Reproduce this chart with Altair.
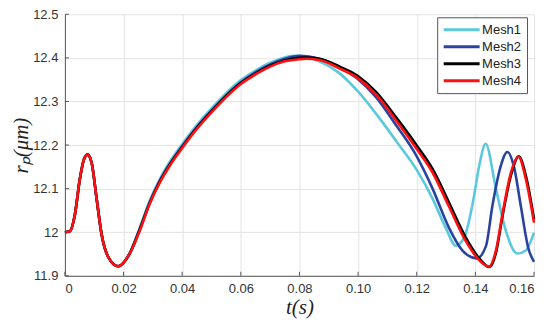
import altair as alt
import pandas as pd

# ---- data ----
series = ["Mesh1", "Mesh2", "Mesh3", "Mesh4"]
colors = ["#5cc8de", "#2b43a0", "#000000", "#ff1010"]

t1 = [0, 0.0017, 0.0034, 0.0051, 0.0065, 0.0077, 0.0091, 0.0108, 0.0125, 0.0148, 0.0182, 0.0221, 0.0255,
      0.0289, 0.0323, 0.0357, 0.040, 0.045, 0.050, 0.055, 0.060, 0.065, 0.070, 0.075, 0.078, 0.0868, 0.0936,
      0.0998, 0.1061, 0.1129, 0.120, 0.1254, 0.1299, 0.1333, 0.1362, 0.139, 0.1413, 0.1435, 0.147, 0.1504,
      0.1543, 0.1572, 0.160]
v1 = [12.0, 12.002, 12.04, 12.122, 12.167, 12.178, 12.160, 12.078, 11.996, 11.943, 11.922, 11.952, 12.010,
      12.072, 12.121, 12.161, 12.202, 12.246, 12.284, 12.319, 12.349, 12.371, 12.389, 12.401, 12.405, 12.392, 12.365,
      12.324, 12.272, 12.210, 12.143, 12.077, 12.010, 11.969, 11.988, 12.063, 12.152, 12.203, 12.100, 12.003,
      11.951, 11.958, 11.999]

t2 = [0, 0.0017, 0.0034, 0.0051, 0.0065, 0.0077, 0.0091, 0.0108, 0.0125, 0.0148, 0.0182, 0.0221, 0.0255,
      0.0289, 0.0323, 0.0357, 0.040, 0.045, 0.050, 0.055, 0.060, 0.065, 0.070, 0.075, 0.080, 0.0868, 0.0936,
      0.0998, 0.1061, 0.1129, 0.120, 0.1254, 0.131, 0.1356, 0.1405, 0.1436, 0.1458, 0.1485, 0.1509, 0.1533,
      0.1555, 0.158, 0.160]
v2 = [12.0, 12.002, 12.04, 12.122, 12.167, 12.178, 12.160, 12.078, 11.996, 11.943, 11.922, 11.951, 12.007,
      12.068, 12.117, 12.156, 12.197, 12.241, 12.279, 12.314, 12.344, 12.367, 12.385, 12.398, 12.405, 12.398, 12.380,
      12.352, 12.310, 12.246, 12.174, 12.100, 12.010, 11.958, 11.940, 11.968, 12.060, 12.148, 12.184, 12.146,
      12.060, 11.965, 11.932]

t3 = [0, 0.0017, 0.0034, 0.0051, 0.0065, 0.0077, 0.0091, 0.0108, 0.0125, 0.0148, 0.0182, 0.0221, 0.0255,
      0.0289, 0.0323, 0.0357, 0.040, 0.045, 0.050, 0.055, 0.060, 0.065, 0.070, 0.075, 0.080, 0.0823, 0.0868,
      0.0936, 0.0998, 0.1061, 0.1129, 0.120, 0.1254, 0.131, 0.1367, 0.1413, 0.1448, 0.147, 0.1492, 0.1521,
      0.1548, 0.1572, 0.160]
v3 = [12.0, 12.002, 12.04, 12.122, 12.167, 12.178, 12.160, 12.078, 11.996, 11.943, 11.922, 11.951, 12.005,
      12.066, 12.115, 12.154, 12.195, 12.239, 12.277, 12.312, 12.342, 12.364, 12.382, 12.394, 12.400, 12.401, 12.398,
      12.380, 12.359, 12.322, 12.264, 12.199, 12.145, 12.068, 11.988, 11.940, 11.920, 11.952, 12.035, 12.130,
      12.174, 12.130, 12.030]

t4 = [0, 0.0017, 0.0034, 0.0051, 0.0065, 0.0077, 0.0091, 0.0108, 0.0125, 0.0148, 0.0182, 0.0221, 0.0255,
      0.0289, 0.0323, 0.0357, 0.040, 0.045, 0.050, 0.055, 0.060, 0.065, 0.070, 0.075, 0.080, 0.0823, 0.0868,
      0.0936, 0.0998, 0.1061, 0.1129, 0.120, 0.1254, 0.131, 0.1367, 0.1413, 0.1446, 0.147, 0.1492, 0.1521,
      0.1547, 0.1572, 0.160]
v4 = [12.0, 12.002, 12.04, 12.122, 12.167, 12.178, 12.160, 12.078, 11.996, 11.943, 11.922, 11.951, 12.003,
      12.065, 12.113, 12.152, 12.193, 12.237, 12.275, 12.310, 12.340, 12.362, 12.380, 12.392, 12.397, 12.398, 12.395,
      12.376, 12.354, 12.316, 12.257, 12.191, 12.137, 12.059, 11.980, 11.936, 11.921, 11.958, 12.040, 12.136,
      12.173, 12.122, 12.022]

x_ticks = [0, 0.02, 0.04, 0.06, 0.08, 0.10, 0.12, 0.14, 0.16]
y_ticks = [11.9, 12.0, 12.1, 12.2, 12.3, 12.4, 12.5]

# ---- build table ----
frames = []
for name, tt, vv in zip(series, [t1, t2, t3, t4], [v1, v2, v3, v4]):
    frames.append(pd.DataFrame({"t": tt, "r": vv, "mesh": name}))
df = pd.concat(frames, ignore_index=True)

W, H = 470, 262

xscale = alt.Scale(domain=[0, 0.16], nice=False, zero=False)
yscale = alt.Scale(domain=[11.9, 12.5], nice=False, zero=False)

lines = alt.Chart(df).mark_line(strokeWidth=2.6, interpolate="monotone").encode(
    x=alt.X("t:Q", scale=xscale,
            axis=alt.Axis(values=x_ticks, title="t(s)",
                          labelExpr="datum.value == 0 ? '0' : format(datum.value, '.2f')",
                          titlePadding=1)),
    y=alt.Y("r:Q", scale=yscale,
            axis=alt.Axis(values=y_ticks, title="rₚ(μm)",
                          labelExpr="datum.value == 12 ? '12' : format(datum.value, '.1f')",
                          titlePadding=1)),
    color=alt.Color("mesh:N", scale=alt.Scale(domain=series, range=colors),
                    legend=alt.Legend(title=None, orient="none", legendX=373, legendY=3,
                                      symbolType="stroke", symbolSize=1296, symbolStrokeWidth=3,
                                      labelFontSize=13, labelFont="Liberation Sans", labelColor="#222",
                                      fillColor="white", strokeColor="#555", padding=5,
                                      clipHeight=15, rowPadding=2, labelOffset=1)),
    order=alt.Order("mesh:N"),
)

xt = alt.Chart(pd.DataFrame({"t": x_ticks})).mark_rule(color="#555", strokeWidth=1).encode(
    x=alt.X("t:Q", scale=xscale), y=alt.value(H), y2=alt.value(H - 4))
yt = alt.Chart(pd.DataFrame({"r": y_ticks})).mark_rule(color="#555", strokeWidth=1).encode(
    y=alt.Y("r:Q", scale=yscale), x=alt.value(0), x2=alt.value(4))

chart = alt.layer(xt, yt, lines).properties(
    width=W, height=H,
    autosize=alt.AutoSizeParams(type="none"),
    padding={"left": 57, "top": 6, "right": 8, "bottom": 45},
).configure_view(strokeWidth=0).configure_axis(
    grid=True, gridColor="#e4e4e4", gridWidth=1,
    domainColor="#555", domainWidth=1,
    ticks=False, labelPadding=7,
    labelFont="Liberation Sans", labelFontSize=13, labelColor="#333",
    titleFont="Liberation Serif", titleFontStyle="italic", titleFontWeight="normal",
    titleFontSize=21, titleColor="#222",
)

chart.save("out.html", embed_options={"renderer": "svg", "actions": False})
